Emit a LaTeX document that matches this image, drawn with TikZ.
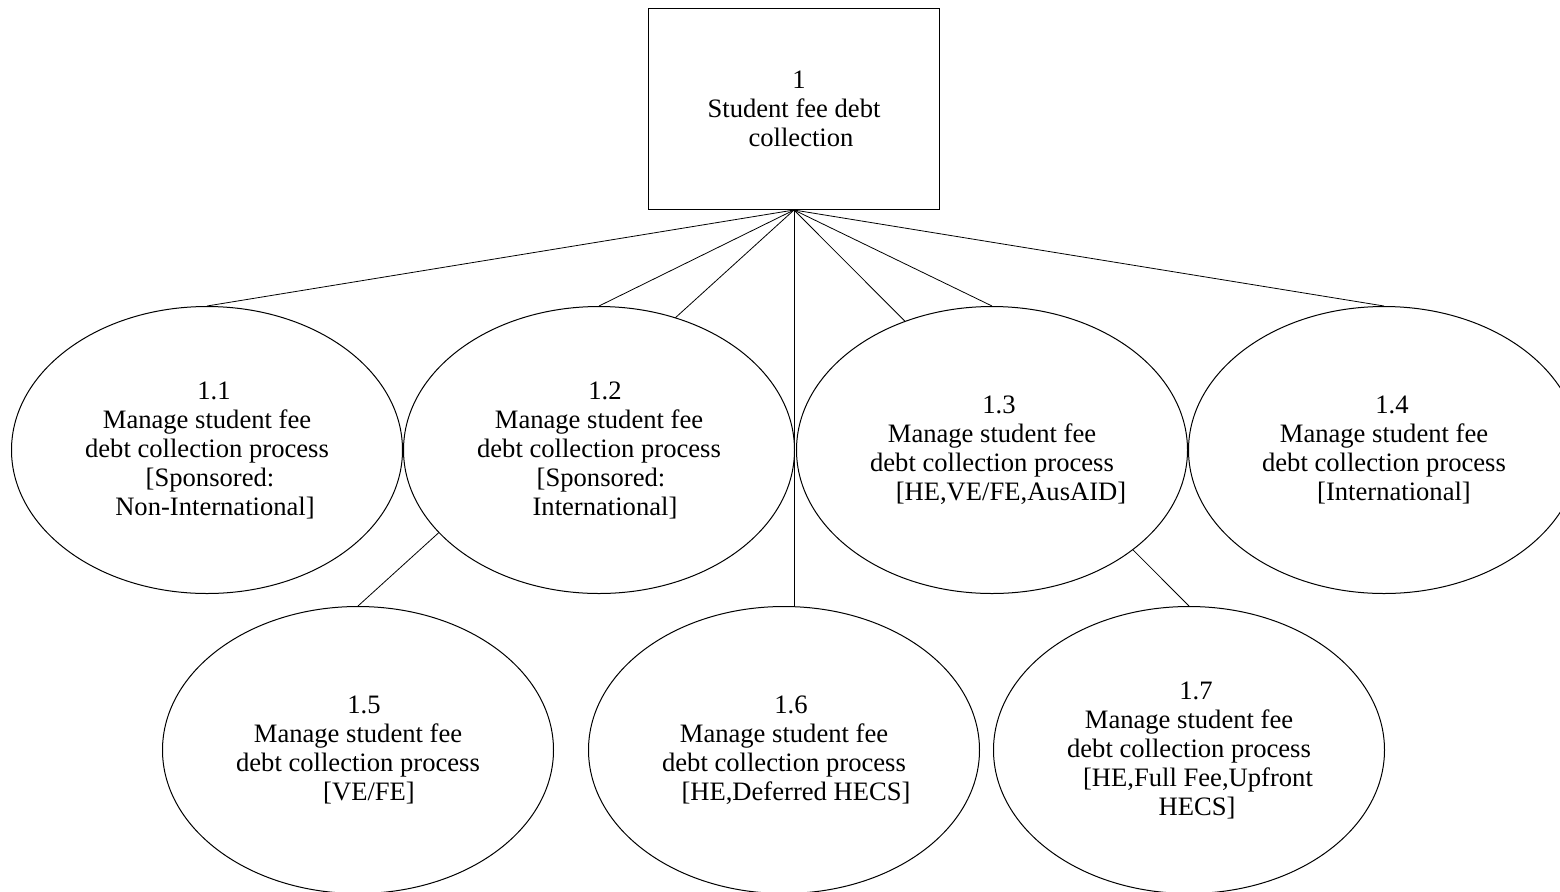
\documentclass[tikz,border=0pt]{standalone}
\usepackage{fontspec}
\setmainfont{Liberation Serif}
\usetikzlibrary{shapes.geometric,backgrounds}

\begin{document}
\begin{tikzpicture}[x=0.5pt,y=-0.5pt,line width=0.5pt,
  every node/.style={font=\fontsize{13.3}{14.5}\selectfont,align=center,inner sep=0pt},
  func/.style={draw,rectangle,fill=white,minimum width=145.5pt,minimum height=100.5pt},
  proc/.style={draw,ellipse,fill=white,minimum width=195.5pt,minimum height=143.5pt}]
  \useasboundingbox (0,0) rectangle (1560,891);
  % root function
  \node[func] (root) at (794,109) {\hspace*{5pt}1\\Student fee debt\\\hspace*{7pt}collection};
  % first row
  \node[proc] (p11) at (207,450) {\hspace*{7pt}1.1\\Manage student fee\\debt collection process\\\hspace*{3pt}[Sponsored:\\\hspace*{8pt}Non-International]};
  \node[proc] (p12) at (599,450) {\hspace*{6pt}1.2\\Manage student fee\\debt collection process\\\hspace*{2pt}[Sponsored:\\\hspace*{6pt}International]};
  \node[proc] (p13) at (992,450) {\hspace*{7pt}1.3\\Manage student fee\\debt collection process\\\hspace*{19pt}[HE,VE/FE,AusAID]};
  \node[proc] (p14) at (1384,450) {\hspace*{8pt}1.4\\Manage student fee\\debt collection process\\\hspace*{10pt}[International]};
  % second row
  \node[proc] (p15) at (358,750) {\hspace*{6pt}1.5\\Manage student fee\\debt collection process\\\hspace*{11pt}[VE/FE]};
  \node[proc] (p16) at (784,750) {\hspace*{7pt}1.6\\Manage student fee\\debt collection process\\\hspace*{12pt}[HE,Deferred HECS]};
  \node[proc] (p17) at (1189,750) {\hspace*{7pt}1.7\\Manage student fee\\debt collection process\\\hspace*{9pt}[HE,Full Fee,Upfront\\\hspace*{8pt}HECS]};
  % links, behind the ellipses
  \begin{scope}[on background layer]
    \draw (root.south) -- (p11.north);
    \draw (root.south) -- (p12.north);
    \draw (root.south) -- (p15.north);
    \draw (root.south) -- (root.south |- p16.north);
    \draw (root.south) -- (p17.north);
    \draw (root.south) -- (p13.north);
    \draw (root.south) -- (p14.north);
  \end{scope}
\end{tikzpicture}
\end{document}
